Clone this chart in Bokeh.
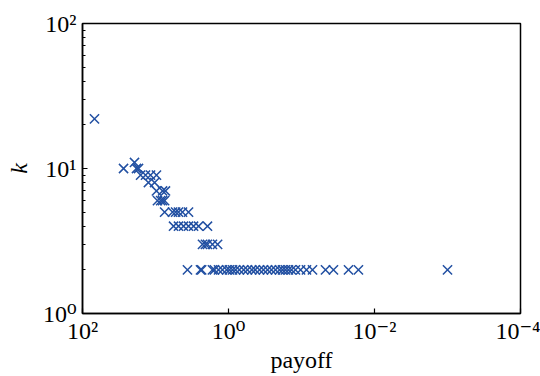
from bokeh.plotting import figure
from bokeh.models import Range1d, FixedTicker, ColumnDataSource
from bokeh.embed import file_html
from bokeh.resources import INLINE

# degree k of each node and its payoff
payoff = [
    68.5,
    19.4,
    27.4, 18.2, 17.1,
    16.0, 13.7, 11.7, 9.7,
    12.5, 10.3,
    9.7, 8.0, 7.3,
    9.4, 8.5, 8.0, 7.5,
    7.5, 5.85, 5.3, 4.84, 4.27, 3.53,
    5.66, 4.84, 4.13, 3.53, 3.01, 2.57, 1.94,
    2.27, 2.07, 1.94, 1.66, 1.41,
    3.65, 2.42, 2.33, 1.66, 1.56, 1.37, 1.21, 1.06, 0.97, 0.88, 0.80, 0.71,
    0.62, 0.55, 0.48, 0.43, 0.376, 0.332, 0.292, 0.258, 0.227, 0.200, 0.182,
    0.166, 0.151, 0.137, 0.121, 0.103, 0.0855, 0.0707, 0.0469, 0.0365,
    0.0227, 0.0166, 0.001,
]
k = [
    22,
    11,
    10, 10, 10,
    9, 9, 9, 9,
    8, 8,
    7, 7, 7,
    6, 6, 6, 6,
    5, 5, 5, 5, 5, 5,
    4, 4, 4, 4, 4, 4, 4,
    3, 3, 3, 3, 3,
    2, 2, 2, 2, 2, 2, 2, 2, 2, 2, 2, 2,
    2, 2, 2, 2, 2, 2, 2, 2, 2, 2, 2,
    2, 2, 2, 2, 2, 2, 2, 2, 2,
    2, 2, 2,
]

# tick positions and their power-of-ten labels
x_ticks = [1e2, 1e0, 1e-2, 1e-4]
x_tick_labels = ["10²", "10⁰", "10⁻²", "10⁻⁴"]
y_ticks = [1, 10, 100]
y_tick_labels = ["10⁰", "10¹", "10²"]
y_minor = [2, 3, 4, 5, 6, 7, 8, 9, 20, 30, 40, 50, 60, 70, 80, 90]

FONT = "Liberation Serif"
# superscript glyphs fall through to a serif face that has them
TICK_FONT = "Liberation Serif, DejaVu Serif"
MARK = "#2250a2"

p = figure(
    width=540, height=376,
    x_axis_type="log", y_axis_type="log",
    x_range=Range1d(1e2, 1e-4), y_range=Range1d(1, 100),
    output_backend="svg", toolbar_location=None,
    min_border_left=82, min_border_right=20,
    min_border_top=23, min_border_bottom=63,
)
p.background_fill_color = "white"
p.border_fill_color = "white"
p.grid.visible = False
p.outline_line_color = "black"
p.outline_line_width = 1.5

src = ColumnDataSource(dict(payoff=payoff, k=k))
p.scatter("payoff", "k", source=src, marker="x", size=13,
          line_width=1.5, line_color=MARK)

p.xaxis.ticker = FixedTicker(ticks=x_ticks)
p.yaxis.ticker = FixedTicker(ticks=y_ticks, minor_ticks=y_minor)
p.xaxis.major_label_overrides = {t: s for t, s in zip(x_ticks, x_tick_labels)}
p.yaxis.major_label_overrides = {t: s for t, s in zip(y_ticks, y_tick_labels)}

for ax in (p.xaxis[0], p.yaxis[0]):
    ax.axis_line_color = "black"
    ax.axis_line_width = 1.5
    ax.major_tick_in = 5
    ax.major_tick_out = 0
    ax.major_tick_line_width = 1.2
    ax.minor_tick_in = 3
    ax.minor_tick_out = 0
    ax.minor_tick_line_width = 1
    ax.major_label_text_font = TICK_FONT
    ax.major_label_text_font_size = "24px"
    ax.major_label_text_color = "black"
    ax.axis_label_text_font = FONT
    ax.axis_label_text_font_size = "24px"
    ax.axis_label_text_color = "black"

p.xaxis.minor_tick_line_color = None
p.xaxis.axis_label = "payoff"
p.xaxis.axis_label_text_font_style = "normal"
p.xaxis.major_label_standoff = 4
p.xaxis.axis_label_standoff = 0

p.yaxis.axis_label = "k"
p.yaxis.axis_label_text_font_style = "italic"
p.yaxis.major_label_standoff = 6
p.yaxis.axis_label_standoff = 8

open("out.html", "w").write(file_html(p, INLINE))
